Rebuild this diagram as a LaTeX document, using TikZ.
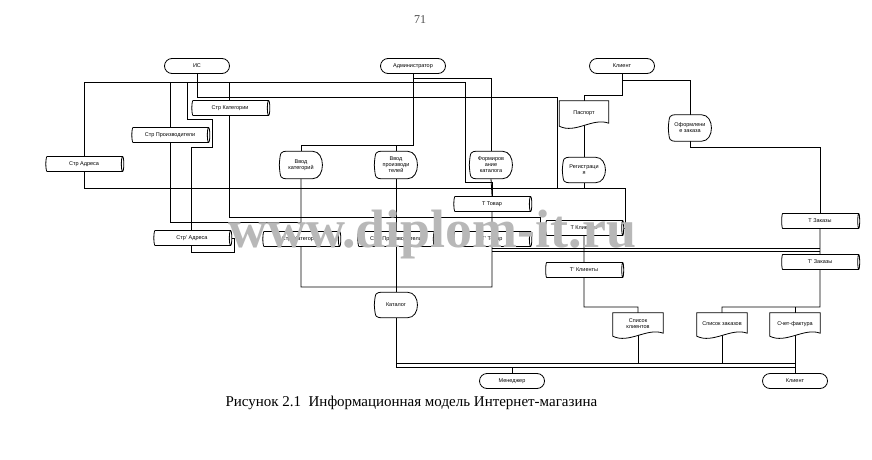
\documentclass[tikz,border=0pt]{standalone}
\usepackage{fontspec}
\setmainfont{Liberation Sans}
\newfontfamily\seriffont{Liberation Serif}
\usetikzlibrary{shapes.geometric}
\pgfdeclarelayer{bg}
\pgfdeclarelayer{shp}
\pgfsetlayers{bg,shp,main}
\newcommand\lbl{\fontsize{5.5}{6}\selectfont}
\newcommand\procshape[1]{\draw[fill=white,line width=0.8pt] (#1.west) .. controls ([xshift=1pt]#1.north west) .. ([xshift=9pt]#1.north west) -- ([xshift=-10pt]#1.north east) .. controls ([xshift=3pt]#1.north east) and ([xshift=3pt]#1.south east) .. ([xshift=-10pt]#1.south east) -- ([xshift=9pt]#1.south west) .. controls ([xshift=1pt]#1.south west) .. (#1.west) -- cycle;}
\newcommand\docshape[1]{\draw[fill=white,line width=0.8pt] (#1.north west) -- (#1.north east) -- ([yshift=2pt]#1.south east) .. controls +(-16pt,6pt) and +(16pt,-8pt) .. ([yshift=-1pt]#1.south west) -- cycle;}
\tikzset{
  term/.style={draw, fill=white, rounded corners=7.5pt, minimum width=65pt, minimum height=15pt, inner sep=0pt, line width=0.8pt, font=\lbl},
  store/.style={cylinder, draw, fill=white, shape aspect=0.5, minimum height=78pt, minimum width=15pt, inner sep=0pt, line width=0.8pt, font=\lbl},
  proc/.style={minimum width=43pt, minimum height=27pt, inner sep=0pt, align=center, font=\lbl},
  docu/.style={minimum width=49pt, minimum height=23pt, inner sep=0pt, align=center, font=\lbl},
  wire/.style={line width=0.8pt}
}
\begin{document}
\begin{tikzpicture}[x=1pt,y=-1pt]
\useasboundingbox (0,0) rectangle (872,460);
\node[font=\seriffont\fontsize{12}{12}\selectfont, text=black!70] (page) at (420,20) {71};
\node[term] (is) at (197,66) {ИС};
\node[term] (admin) at (413,66) {Администратор};
\node[term] (klient) at (622,66) {Клиент};
\node[term] (manager) at (512,381) {Менеджер};
\node[term] (klient2) at (795,381) {Клиент};
\node[store] (strkat) at (230,108) {Стр Категории};
\node[store] (strproizv) at (170,135) {Стр Производители};
\node[store] (stradr) at (84,164) {Стр Адреса};
\node[store] (stradr2) at (192,238) {Стр' Адреса};
\node[store] (strkat2) at (301,239) {Стр' Категории};
\node[store] (strproizv2) at (396,239) {Стр' Производители};
\node[store] (ttovar2) at (492,239) {Т' Товар};
\node[store] (ttovar) at (492,204) {Т Товар};
\node[store] (tklient) at (584,228) {Т Клиенты};
\node[store] (tklient2) at (584,270) {Т' Клиенты};
\node[store] (tzakaz) at (820,221) {Т Заказы};
\node[store] (tzakaz2) at (820,262) {Т' Заказы};
\node[proc] (vvodkat) at (301,165) {Ввод\\категорий};
\node[proc] (vvodproizv) at (396,165) {Ввод\\производи\\телей};
\node[proc] (formkat) at (491,165) {Формиров\\ание\\каталога};
\node[proc, minimum height=25pt] (registr) at (584,170) {Регистраци\\я};
\node[proc, minimum height=26pt] (oform) at (690,128) {Оформлени\\е заказа};
\node[proc, minimum height=25pt] (katalog) at (396,305) {Каталог};
\node[docu, minimum height=24pt] (pasport) at (584,113) {Паспорт};
\node[docu, minimum width=50pt, minimum height=22pt] (spkl) at (638,324) {Список\\клиентов};
\node[docu, minimum width=50pt, minimum height=22pt] (spzak) at (722,324) {Список заказов};
\node[docu, minimum width=50pt, minimum height=22pt] (schet) at (795,324) {Счет-фактура};
\begin{pgfonlayer}{shp}
\procshape{vvodkat}
\procshape{vvodproizv}
\procshape{formkat}
\procshape{registr}
\procshape{oform}
\procshape{katalog}
\docshape{pasport}
\docshape{spkl}
\docshape{spzak}
\docshape{schet}
\end{pgfonlayer}
\begin{pgfonlayer}{bg}
\fill[white] (0,0) rectangle (872,460);
\draw[wire] (is.south) -- (197,97) -- (557,97) -- (557,188);
\draw[wire] (stradr.north) |- (465,82) -- (465,182) -| (ttovar.north);
\draw[wire] (170,82) |- (301,222);
\draw[wire] (187,82) -- (187,119) -- (212,119) -- (212,147) -- (191,147) -- (191,252) -- (234,252) |- (stradr2.east);
\draw[wire] (229,82) |- (540,217) |- (tklient.west);
\draw[wire] (admin.south) -- (413,145) -| (vvodkat.north);
\draw[wire] (396,145) -- (vvodproizv.north);
\draw[wire] (413,78) -| (formkat.north);
\draw[wire] (vvodkat.south) -- (strkat2.north);
\draw[wire] (strkat2.south) -- (301,287) -| (ttovar2.south);
\draw[wire] (vvodproizv.south) -- (katalog.north);
\draw[wire] (formkat.south) -- (ttovar.north);
\draw[wire] (ttovar.south) -- (ttovar2.north);
\draw[wire] (katalog.south) -- (396,367) -- (795,367);
\draw[wire] (396,363) -- (795,363);
\draw[wire] (spkl.south) -- (638,363);
\draw[wire] (spzak.south) -- (722,363);
\draw[wire] (schet.south) -- (klient2.north);
\draw[wire] (manager.north) -- (512,367);
\draw[wire] (klient.south) -- (622,80) -| (oform.north);
\draw[wire] (622,80) -- (622,95) -| (pasport.north);
\draw[wire] (pasport.south) -- (registr.north);
\draw[wire] (registr.south) -- (584,188);
\draw[wire] (stradr.south) |- (625,188) |- (tklient.east);
\draw[wire] (tklient.south) -- (tklient2.north);
\draw[wire] (tklient2.south) -- (584,307) -| (spkl.north);
\draw[wire] (oform.south) -- (690,147) -| (tzakaz.north);
\draw[wire] (tzakaz.south) -- (tzakaz2.north);
\draw[wire] (492,248) -- (820,248);
\draw[wire] (492,251) -- (820,251);
\draw[wire] (tzakaz2.south) -- (820,307) -| (spzak.north);
\draw[wire] (795,307) -- (schet.north);
\end{pgfonlayer}
\node[anchor=base west, font=\seriffont\fontsize{15}{16}\selectfont] (caption) at (222,406) {Рисунок 2.1\ \ Информационная модель Интернет-магазина};
\node[anchor=base west, inner sep=0pt, font=\seriffont\bfseries\fontsize{54}{54}\selectfont, text=black!28] (wm) at (228,247) {www.diplom-it.ru};
\end{tikzpicture}
\end{document}
